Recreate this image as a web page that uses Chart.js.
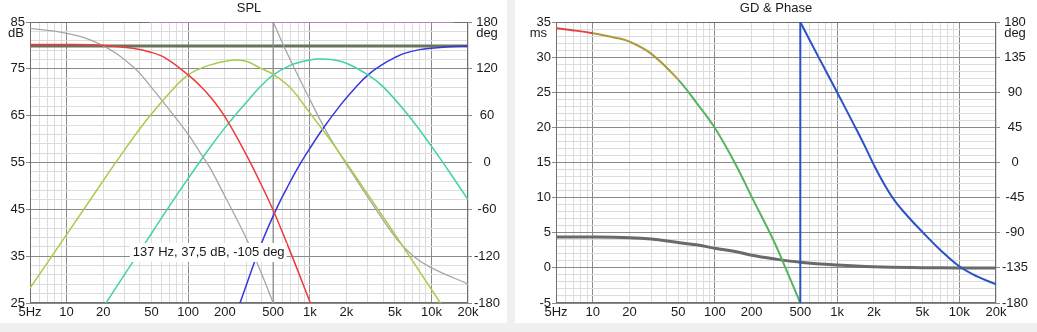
<!DOCTYPE html>
<html>
<head>
<meta charset="utf-8">
<script src="https://cdn.jsdelivr.net/npm/chart.js@4/dist/chart.umd.min.js"></script>
<style>
  body { margin: 0; width: 1037px; height: 332px; overflow: hidden; background: #f0f0f0; }
  .panel { position: absolute; top: 0; height: 323px; background: #fff; }
  canvas { display: block; }
</style>
</head>
<body>
<div class="panel" style="left:0;width:507px"><canvas id="splChart" width="507" height="323"></canvas></div>
<div class="panel" style="left:515px;width:522px"><canvas id="gdChart" width="522" height="323"></canvas></div>
<script>
// Frequency axis: grid every 1..9 step per decade, labels on a few of them
let gridHz = [5, 6, 7, 8, 9, 10, 20, 30, 40, 50, 60, 70, 80, 90, 100, 200, 300, 400, 500, 600, 700, 800, 900,
  1000, 2000, 3000, 4000, 5000, 6000, 7000, 8000, 9000, 10000, 20000];
let labelHz = [5, 10, 20, 50, 100, 200, 500, 1000, 2000, 5000, 10000, 20000];
let labelText = ["5Hz", "10", "20", "50", "100", "200", "500", "1k", "2k", "5k", "10k", "20k"];

// SPL chart: sum and the four driver responses (dB)
let sumHz = [5, 20000];
let sumDb = [79.9, 79.9];
let lowHz = [5, 10, 20, 35, 50, 66, 100, 125, 150, 200, 300, 400, 500, 700, 1000, 1150];
let lowDb = [80.2, 80.2, 80, 79.4, 78.5, 77.2, 73.7, 71.4, 69.2, 64.8, 56.7, 50.2, 44.8, 35.6, 25.3, 21.2];
let midLowHz = [5, 10, 22.7, 30, 40, 50, 70, 100, 150, 220, 300, 389, 500, 700, 1000, 1400, 2000, 3000, 5000, 8000, 11800, 14000];
let midLowDb = [28.2, 39.6, 53.2, 57.7, 62.2, 65.4, 69.8, 73.7, 75.8, 76.8, 76.6, 75.2, 73.8, 70.8, 65.6, 60.6, 54.9, 48.2, 39.7, 31.7, 25.1, 22.2];
let midHighHz = [20, 30, 50, 70, 100, 150, 200, 267, 300, 389, 500, 700, 1000, 1213, 1500, 2000, 3013, 4000, 6267, 10000, 13700, 20000];
let midHighDb = [24.1, 31.1, 39.9, 45.7, 51.6, 58.1, 62.4, 66.3, 67.8, 71.1, 73.7, 75.8, 76.9, 77.1, 77, 76.2, 73.7, 71.2, 65.5, 58.5, 53.4, 47.1];
let highHz = [250, 270, 400, 534, 650, 804, 1000, 1281, 1792, 2300, 3013, 4000, 5000, 6000, 8000, 10000, 14000, 20000];
let highDb = [23.2, 25.4, 37.7, 45.2, 49.6, 54, 58, 62.2, 67.3, 70.6, 73.7, 76, 77.4, 78.3, 79.1, 79.4, 79.7, 79.9];

// SPL chart: system phase (deg), wraps at 500 Hz
let phaseLoHz = [5, 10, 19, 35, 50, 66, 100, 125, 150, 200, 300, 400, 500];
let phaseLoDeg = [171.9, 165.5, 151.4, 123, 96, 72.5, 36, 13, -6, -43, -97, -142, -180];
let phaseHiHz = [500, 662, 942, 1377, 1900, 2142, 3330, 5190, 7000, 9750, 20000];
let phaseHiDeg = [180, 137.7, 89, 39, 3.2, -9.6, -55, -98, -119, -134, -155.7];
let limitHz = [48, 15200];
let limitDeg = [180, 180];

// cursor readout
let cursorHz = 137;
let cursorDb = 37.5;
let cursorDeg = -105;

// GD & Phase chart: group delay (ms) and phase (deg)
let gdHz = [5, 7, 10, 15, 20, 30, 50, 70, 100, 150, 200, 300, 400, 500];
let gdMs = [34.1, 33.8, 33.4, 32.8, 32.2, 30.5, 26.8, 23.6, 19.9, 14.5, 10.1, 4, -1, -5];
let gdSumHz = [5, 10, 20, 30, 50, 70, 100, 150, 200, 300, 500, 1000, 2000, 5000, 10000, 20000];
let gdSumMs = [4.4, 4.4, 4.3, 4.1, 3.6, 3.3, 2.8, 2.3, 1.8, 1.3, 0.8, 0.4, 0.15, 0.03, 0, 0];
let gdPhaseHz = [500, 700, 1000, 1400, 1700, 2000, 2500, 3000, 4000, 5000, 7000, 10000, 14000, 20000];
let gdPhaseDeg = [180, 136, 90, 46, 20, -3, -31, -50, -73, -89, -112, -133, -146, -156];
let wrapHz = [500, 500];
let wrapDeg = [-180, 180];

let MAJOR = "#8a8a8a";
let MINOR = "#dcdcdc";

Chart.defaults.font.family = '"Liberation Sans", Arial, sans-serif';
Chart.defaults.font.size = 13;
Chart.defaults.color = "#1a1a1a";

function pts(xs, ys){
  return xs.map((x, i) => ({ x: x, y: ys[i] }));
}

function line(data, color, width, axis, extra){
  return Object.assign({
    data: data, yAxisID: axis, borderColor: color, borderWidth: width,
    pointRadius: 0, fill: false, tension: 0.4
  }, extra || {});
}

function isDecade(v){
  let l = Math.log10(v);
  return Math.abs(l - Math.round(l)) < 1e-6;
}

function freqAxis(){
  return {
    type: "logarithmic", min: 5, max: 20000,
    afterBuildTicks: (s) => { s.ticks = gridHz.map(v => ({ value: v })); },
    afterFit: (s) => { s.height = 20; },
    ticks: {
      autoSkip: false, maxRotation: 0, padding: 2,
      callback: (v) => { let i = labelHz.indexOf(v); return i < 0 ? "" : labelText[i]; }
    },
    grid: { color: (c) => (c.tick && isDecade(c.tick.value)) ? MAJOR : MINOR, drawTicks: false },
    border: { display: false }
  };
}

// left value axis with major lines every `major`, minor every `minor`
function valueAxis(min, max, major, minor, width){
  let vals = [];
  for(let v = min; v <= max + 1e-9; v += minor) vals.push(v);
  let isMajor = (v) => Math.abs((v - min) / major - Math.round((v - min) / major)) < 1e-6;
  return {
    position: "left", min: min, max: max,
    afterBuildTicks: (s) => { s.ticks = vals.map(v => ({ value: v })); },
    afterFit: (s) => { s.width = width; },
    ticks: { autoSkip: false, padding: 1, callback: (v) => isMajor(v) ? String(v) : "" },
    grid: {
      color: (c) => (c.tick && isMajor(c.tick.value)) ? MAJOR : MINOR,
      tickLength: 4,
      tickColor: (c) => (c.tick && isMajor(c.tick.value)) ? MAJOR : "rgba(0,0,0,0)"
    },
    border: { display: false }
  };
}

function phaseAxis(step, width){
  let vals = [];
  for(let v = -180; v <= 180; v += step) vals.push(v);
  return {
    position: "right", min: -180, max: 180,
    afterBuildTicks: (s) => { s.ticks = vals.map(v => ({ value: v })); },
    afterFit: (s) => { s.width = width; },
    ticks: { autoSkip: false, padding: 2, crossAlign: "center" },
    grid: { drawOnChartArea: false, tickLength: 4, tickColor: MAJOR },
    border: { display: false }
  };
}

// plot frame, title, unit captions and cursor readout
let decorPlugin = {
  id: "decor",
  beforeDatasetsDraw(chart){
    let a = chart.chartArea, ctx = chart.ctx;
    ctx.save();
    ctx.strokeStyle = "#707070";
    ctx.lineWidth = 1;
    ctx.strokeRect(Math.round(a.left) + 0.5, Math.round(a.top) + 0.5,
      Math.round(a.right - a.left) - 1, Math.round(a.bottom - a.top) - 1);
    ctx.restore();
  },
  afterDatasetsDraw(chart, args, o){
    if(!o.cursor) return;
    let ctx = chart.ctx;
    let x = chart.scales.x.getPixelForValue(cursorHz) - 75;
    let y = chart.scales.db.getPixelForValue(cursorDb) - 1.5;
    let text = cursorHz + " Hz, " + String(cursorDb).replace(".", ",") + " dB, " + cursorDeg + " deg";
    ctx.save();
    ctx.font = '13px "Liberation Sans", Arial, sans-serif';
    let w = ctx.measureText(text).width + 5;
    ctx.fillStyle = "#fff";
    ctx.fillRect(x, y, w, 19);
    ctx.beginPath();
    ctx.rect(x, y, w, 19);
    ctx.clip();
    ctx.fillStyle = "#1a1a1a";
    ctx.textBaseline = "middle";
    ctx.fillText(text, x + 3, y + 9.5);
    ctx.restore();
  },
  afterDraw(chart, args, o){
    let a = chart.chartArea, ctx = chart.ctx;
    ctx.save();
    ctx.font = '13px "Liberation Sans", Arial, sans-serif';
    ctx.fillStyle = "#1a1a1a";
    ctx.textBaseline = "middle";
    ctx.textAlign = "center";
    ctx.fillText(o.title, (a.left + a.right) / 2, 8);
    ctx.textAlign = "right";
    ctx.fillText(o.leftUnit, a.left - o.leftInset, a.top + 11);
    ctx.textAlign = "center";
    ctx.fillText(o.rightUnit, a.right + 19, a.top + 11);
    ctx.restore();
  }
};

function createChart(elementID, datasets, scales, decor){
  return new Chart(document.getElementById(elementID).getContext("2d"), {
    type: "line",
    data: { datasets: datasets },
    options: {
      responsive: false, animation: false, devicePixelRatio: 1,
      layout: { padding: { top: 22, left: 0, right: 0, bottom: 0 } },
      plugins: { legend: { display: false }, tooltip: { enabled: false }, decor: decor },
      scales: scales
    },
    plugins: [decorPlugin]
  });
}

createChart("splChart", [
  line(pts(lowHz, lowDb), "#ee3a3a", 1.5, "db"),
  line(pts(midLowHz, midLowDb), "#a6cc4c", 1.5, "db"),
  line(pts(midHighHz, midHighDb), "#3fd3a6", 1.5, "db"),
  line(pts(highHz, highDb), "#3636de", 1.5, "db"),
  line(pts(phaseLoHz, phaseLoDeg), "#a6a6a6", 1.3, "deg"),
  line(pts(wrapHz, wrapDeg), "#8c8c8c", 1.3, "deg", { tension: 0 }),
  line(pts(phaseHiHz, phaseHiDeg), "#a6a6a6", 1.3, "deg"),
  line(pts(sumHz, sumDb), "#66755a", 3, "db"),
  line(pts(limitHz, limitDeg), "#c98fd2", 1.5, "deg")
], {
  x: freqAxis(),
  db: valueAxis(25, 85, 10, 2, 30),
  deg: phaseAxis(60, 39)
}, { title: "SPL", leftUnit: "dB", rightUnit: "deg", leftInset: 6, cursor: true });

createChart("gdChart", [
  line(pts(wrapHz, wrapDeg), "#2b52c6", 2, "deg", { tension: 0 }),
  line(pts(gdPhaseHz, gdPhaseDeg), "#2b52c6", 2, "deg"),
  line(pts(gdHz, gdMs), "#55b45e", 2, "ms", {
    segment: { borderColor: (c) => c.p0.parsed.x < 10 ? "#e04444" : (c.p0.parsed.x < 50 ? "#aa9c3c" : "#55b45e") }
  }),
  line(pts(gdSumHz, gdSumMs), "#6a6a6a", 3, "ms")
], {
  x: freqAxis(),
  ms: valueAxis(-5, 35, 5, 1, 41),
  deg: phaseAxis(45, 41)
}, { title: "GD & Phase", leftUnit: "ms", rightUnit: "deg", leftInset: 9, cursor: false });
</script>
</body>
</html>
